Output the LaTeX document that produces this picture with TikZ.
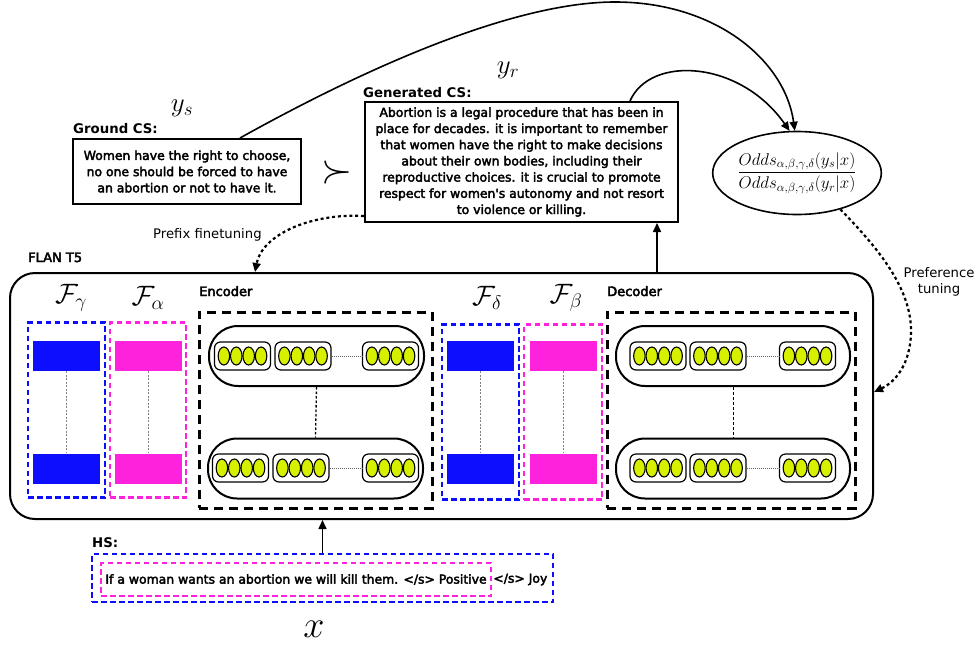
\RequirePackage{fix-cm}
\documentclass[tikz,border=0pt]{standalone}
\usepackage[no-math]{fontspec}
\setmainfont{DejaVu Sans}
\newfontfamily\medfont{DejaVu Sans}[FakeBold=3]
\newfontfamily\lblfont{DejaVu Sans}[FakeBold=3.5]
\usetikzlibrary{arrows.meta,shapes.geometric,calc}
\definecolor{fblue}{RGB}{14,14,255}
\definecolor{fmag}{RGB}{255,34,221}
\definecolor{tokcol}{RGB}{214,240,0}
\tikzset{
  body/.style={font=\medfont\fontsize{12.4}{16.2}\selectfont},
  csbox/.style={draw, line width=2pt, align=center, inner sep=0pt, body},
  hdr/.style={font=\bfseries\fontsize{13.3}{16}\selectfont, anchor=base west, inner sep=0pt},
  mlabel/.style={font=\lblfont\fontsize{13}{16}\selectfont, anchor=base west, inner sep=0pt},
  plabel/.style={font=\fontsize{13.2}{16}\selectfont, inner sep=0pt, align=center},
  arr/.style={line width=1.6pt, -{Triangle[length=9pt,width=8pt]}},
  dotarr/.style={line width=2.2pt, dash pattern=on 3pt off 2.8pt, -{Triangle[length=9pt,width=8pt]}},
  bdash/.style={draw=fblue, line width=2.4pt, dash pattern=on 5.5pt off 3.5pt, inner sep=0pt},
  mdash/.style={draw=fmag, line width=2.4pt, dash pattern=on 5.5pt off 3.5pt, inner sep=0pt},
  kdash/.style={draw=black, line width=3pt, dash pattern=on 9pt off 6pt, inner sep=0pt},
  pill/.style={draw, line width=2pt, rounded corners=29pt, minimum height=60pt, inner sep=0pt},
  grp/.style={draw, line width=1.2pt, rounded corners=6pt, minimum width=56pt, minimum height=28pt, inner sep=0pt},
  tokc/.style={ellipse, draw, line width=1.1pt, fill=tokcol, minimum width=11.5pt, minimum height=18pt, inner sep=0pt},
  fillb/.style={fill=fblue, minimum width=67pt, minimum height=30pt, inner sep=0pt},
  fillm/.style={fill=fmag, minimum width=67pt, minimum height=30pt, inner sep=0pt},
  fbox/.style={minimum width=77pt, minimum height=175pt},
  glink/.style={gray, line width=0.8pt, dash pattern=on 2pt off 1.5pt},
  tlink/.style={line width=0.8pt, dash pattern=on 1pt off 1pt, gray!80!black},
  mathlbl/.style={inner sep=0pt},
  tok/.pic={
    \node[grp] (-box) at (0,0) {};
    \foreach \i in {0,1,2,3} \node[tokc] (-c\i) at ({(\i-1.5)*12.4},0) {};
  }
}
\begin{document}
\begin{tikzpicture}[x=1pt,y=-1pt]
\useasboundingbox (0,0) rectangle (979,648);

% ---------- top boxes ----------
\node[hdr] (gshdr) at (73,133) {Ground CS:};
\node[csbox, minimum width=228pt, minimum height=65pt] (gs) at (187,171.5)
  {Women have the right to choose,\\ no one should be forced to have\\ an abortion or not to have it.};
\node[hdr] (genhdr) at (363,97) {Generated CS:};
\node[csbox, minimum width=313pt, minimum height=120pt] (gen) at (521.5,162)
  {Abortion is a legal procedure that has been in\\
   place for decades. it is important to remember\\
   that women have the right to make decisions\\
   about their own bodies, including their\\
   reproductive choices. it is crucial to promote\\
   respect for women's autonomy and not resort\\
   to violence or killing.};
\node[mathlbl, font=\fontsize{40}{40}\selectfont] (succ) at (337.5,172) {$\succ$};
\node[mathlbl, font=\fontsize{27}{27}\selectfont] (ys) at (182,108) {$y_s$};
\node[mathlbl, font=\fontsize{27}{27}\selectfont] (yr) at (508,70) {$y_r$};
\node[ellipse, draw, line width=1.6pt, minimum width=127pt, minimum height=83pt, inner sep=0pt,
      font=\fontsize{17}{20}\selectfont] (odds) at (797,173)
  {$\displaystyle\frac{Odds_{\alpha,\beta,\gamma,\delta}(y_s|x)}{Odds_{\alpha,\beta,\gamma,\delta}(y_r|x)}$};

% ---------- FLAN T5 ----------
\node[mlabel] (flanlbl) at (28,262) {FLAN T5};
\node[draw, line width=2pt, rounded corners=25pt, minimum width=863pt, minimum height=246pt, inner sep=0pt] (flan) at (441.5,396) {};

% F boxes (encoder side)
\node[mathlbl, font=\fontsize{28}{28}\selectfont] (Fg) at (71,298) {$\mathcal{F}_\gamma$};
\node[mathlbl, font=\fontsize{28}{28}\selectfont] (Fa) at (148,298) {$\mathcal{F}_\alpha$};
\node[bdash, fbox] (fgbox) at (66.5,410) {};
\node[mdash, fbox, minimum width=76pt] (fabox) at (148,410) {};
\node[fillb] (fg1) at (66.5,356) {};
\node[fillb] (fg2) at (66.5,468.5) {};
\node[fillm] (fa1) at (148.5,356) {};
\node[fillm] (fa2) at (148.5,468.5) {};
\draw[glink] (fg1.south) -- (fg2.north);
\draw[glink] (fa1.south) -- (fa2.north);

% encoder
\node[mlabel] (enclbl) at (199,296) {Encoder};
\node[kdash, minimum width=233pt, minimum height=196pt] (enc) at (315.5,410) {};
\node[pill, minimum width=215pt] (encTop) at (316.5,356) {};
\node[pill, minimum width=215pt] (encBot) at (315.5,468.5) {};
\pic (et1) at (242.5,356) {tok};
\pic (et2) at (303,356) {tok};
\pic (et3) at (390.5,356) {tok};
\pic (eb1) at (240.5,468) {tok};
\pic (eb2) at (301,468) {tok};
\pic (eb3) at (390.5,468) {tok};
\draw[tlink] (et2-box.east) -- (et3-box.west);
\draw[tlink] (eb2-box.east) -- (eb3-box.west);
\draw[line width=1.3pt, dash pattern=on 2.5pt off 2pt] (encTop.south) -- (encBot.north);

% F boxes (decoder side)
\node[mathlbl, font=\fontsize{28}{28}\selectfont] (Fd) at (487,298) {$\mathcal{F}_\delta$};
\node[mathlbl, font=\fontsize{28}{28}\selectfont] (Fb) at (566,298) {$\mathcal{F}_\beta$};
\node[bdash, fbox] (fdbox) at (480.5,412) {};
\node[mdash, fbox, minimum width=78pt] (fbbox) at (563,412) {};
\node[fillb] (fd1) at (480,356) {};
\node[fillb] (fd2) at (480,468.5) {};
\node[fillm] (fb1) at (563.5,356) {};
\node[fillm] (fb2) at (563.5,468.5) {};
\draw[glink] (fd1.south) -- (fd2.north);
\draw[glink] (fb1.south) -- (fb2.north);

% decoder
\node[mlabel] (declbl) at (607,296) {Decoder};
\node[kdash, minimum width=248pt, minimum height=196pt] (dec) at (731,410) {};
\node[pill, minimum width=234pt] (decTop) at (733,356) {};
\node[pill, minimum width=234pt] (decBot) at (733,468.5) {};
\pic (dt1) at (658,356) {tok};
\pic (dt2) at (718,356) {tok};
\pic (dt3) at (807.5,356) {tok};
\pic (db1) at (658,468) {tok};
\pic (db2) at (718,468) {tok};
\pic (db3) at (807.5,468) {tok};
\draw[tlink] (dt2-box.east) -- (dt3-box.west);
\draw[tlink] (db2-box.east) -- (db3-box.west);
\draw[line width=0.9pt, dash pattern=on 3pt off 2pt] (decTop.south) -- (decBot.north);

% ---------- HS ----------
\node[hdr] (hshdr) at (92,547) {HS:};
\node[bdash, minimum width=461pt, minimum height=48pt] (hs) at (322.5,578) {};
\node[mdash, minimum width=390pt, minimum height=33pt, body] (hsin) at (296,579.5)
  {If a woman wants an abortion we will kill them. </s> Positive};
\node[body, anchor=west, inner sep=1pt] (joy) at (hsin.east) {</s> Joy};
\node[mathlbl, font=\fontsize{38}{38}\selectfont] (xl) at (314,629) {$x$};

% ---------- labels ----------
\node[plabel, anchor=base west] (pft) at (153,238) {Prefix finetuning};
\node[plabel] (prt) at (939,281.5) {Preference\\tuning};

% ---------- connectors ----------
\draw[arr] (hs.north) -- (hs.north |- flan.south);
\draw[arr] ([xshift=135.5pt]gen.south |- flan.north) -- ([xshift=135.5pt]gen.south);
\draw[arr] ([xshift=53pt]gs.north) .. controls (380,60) and (520,2) .. (615,2)
  .. controls (715,2) and (785,60) .. (odds.93);
\draw[arr] ([xshift=108.5pt]gen.north) .. controls (650,55) and (740,60) .. (odds.100);
\draw[dotarr] ([yshift=7pt]gen.south west) .. controls (310,213) and (262,235) .. ([xshift=-186.5pt]flan.north);
\draw[dotarr] (odds.-40) .. controls (880,250) and (912,290) .. (911,333)
  .. controls (910,365) and (895,382) .. ([yshift=4pt]flan.east);
\end{tikzpicture}
\end{document}
